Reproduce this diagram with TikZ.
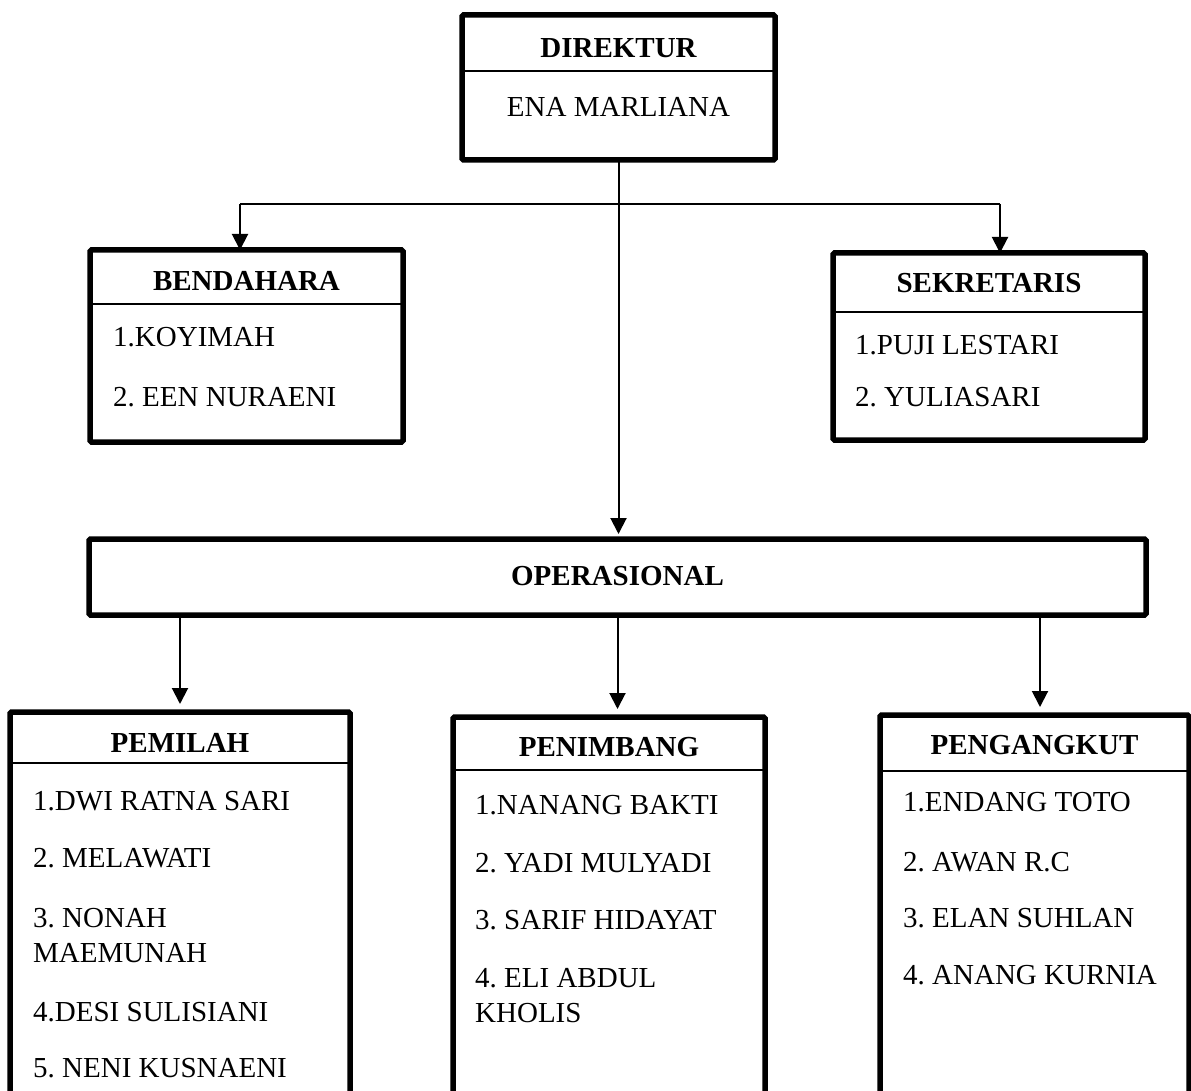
\documentclass[tikz,border=0pt]{standalone}
\usepackage{fontspec}
\setmainfont{Liberation Serif}
\usetikzlibrary{arrows.meta}
\frenchspacing
\begin{document}
\begin{tikzpicture}[x=1pt,y=-1pt,
  box/.style={draw,line width=5.5pt,rounded corners=1.5pt,inner sep=0pt,outer sep=0pt,anchor=north west},
  ttl/.style={font=\fontsize{29}{35}\selectfont\bfseries,inner sep=0pt},
  ctr/.style={font=\fontsize{29}{35}\selectfont,inner sep=0pt},
  itm/.style={font=\fontsize{29}{35}\selectfont,inner sep=0pt,anchor=north west,align=left},
  divl/.style={line width=1.8pt},
  conn/.style={line width=2pt},
  arr/.style={conn,-{Triangle[width=16pt,length=16pt]}}
]
\fill[white] (0,0) rectangle (1191,1091);
\useasboundingbox (0,0) rectangle (1191,1091);

% DIREKTUR
\node[box,minimum width=313pt,minimum height=145pt] (dir) at (462,15) {};
\draw[divl] (dir.west |- 0,71) -- (dir.east |- 0,71);
\node[ttl] (dirT) at (618.5,48) {DIREKTUR};
\node[ctr] (dirN) at (618.5,107) {ENA MARLIANA};

% BENDAHARA
\node[box,minimum width=313pt,minimum height=192pt] (ben) at (90,250) {};
\draw[divl] (ben.west |- 0,304) -- (ben.east |- 0,304);
\node[ttl] (benT) at (246.5,281) {BENDAHARA};
\node[itm] (ben1) at (113,327) {1.KOYIMAH};
\node[itm] (ben2) at (113,387) {2. EEN NURAENI};

% SEKRETARIS
\node[box,minimum width=312pt,minimum height=187pt] (sek) at (833,253) {};
\draw[divl] (sek.west |- 0,312) -- (sek.east |- 0,312);
\node[ttl] (sekT) at (989,283) {SEKRETARIS};
\node[itm] (sek1) at (855,335) {1.PUJI LESTARI};
\node[itm] (sek2) at (855,387) {2. YULIASARI};

% OPERASIONAL
\node[box,minimum width=1057pt,minimum height=76pt] (ops) at (89,539) {};
\node[ttl] (opsT) at (617.5,576) {OPERASIONAL};

% PEMILAH
\node[box,minimum width=340pt,minimum height=400pt] (pem) at (10,712) {};
\draw[divl] (pem.west |- 0,763) -- (pem.east |- 0,763);
\node[ttl] (pemT) at (180,743) {PEMILAH};
\node[itm] (pem1) at (33,791) {1.DWI RATNA SARI};
\node[itm] (pem2) at (33,848) {2. MELAWATI};
\node[itm] (pem3) at (33,908) {3. NONAH\\MAEMUNAH};
\node[itm] (pem4) at (33,1002) {4.DESI SULISIANI};
\node[itm] (pem5) at (33,1058) {5. NENI KUSNAENI};

% PENIMBANG
\node[box,minimum width=312pt,minimum height=400pt] (pen) at (453,717) {};
\draw[divl] (pen.west |- 0,770) -- (pen.east |- 0,770);
\node[ttl] (penT) at (609,747) {PENIMBANG};
\node[itm] (pen1) at (475,795) {1.NANANG BAKTI};
\node[itm] (pen2) at (475,853) {2. YADI MULYADI};
\node[itm] (pen3) at (475,910) {3. SARIF HIDAYAT};
\node[itm] (pen4) at (475,968) {4. ELI ABDUL\\KHOLIS};

% PENGANGKUT
\node[box,minimum width=309pt,minimum height=400pt] (peng) at (880,715) {};
\draw[divl] (peng.west |- 0,771) -- (peng.east |- 0,771);
\node[ttl] (pengT) at (1034.5,745) {PENGANGKUT};
\node[itm] (peng1) at (903,792) {1.ENDANG TOTO};
\node[itm] (peng2) at (903,852) {2. AWAN R.C};
\node[itm] (peng3) at (903,908) {3. ELAN SUHLAN};
\node[itm] (peng4) at (903,965) {4. ANANG KURNIA};

% connectors
\coordinate (bl) at (240,204);
\coordinate (sr) at (1000,204);
\coordinate (pg) at (1040,0);
\draw[arr,shorten >=5pt] (dir.south) -- (dir.south |- ops.north);
\draw[conn] (bl) -- (sr);
\draw[arr] (bl) -- (bl |- ben.north);
\draw[arr] (sr) -- (sr |- sek.north);
\draw[arr,shorten >=8pt] (ops.south -| pem.north) -- (pem.north);
\draw[arr,shorten >=8pt] (ops.south) -- (ops.south |- pen.north);
\draw[arr,shorten >=8pt] (ops.south -| pg) -- (pg |- peng.north);
\end{tikzpicture}
\end{document}
